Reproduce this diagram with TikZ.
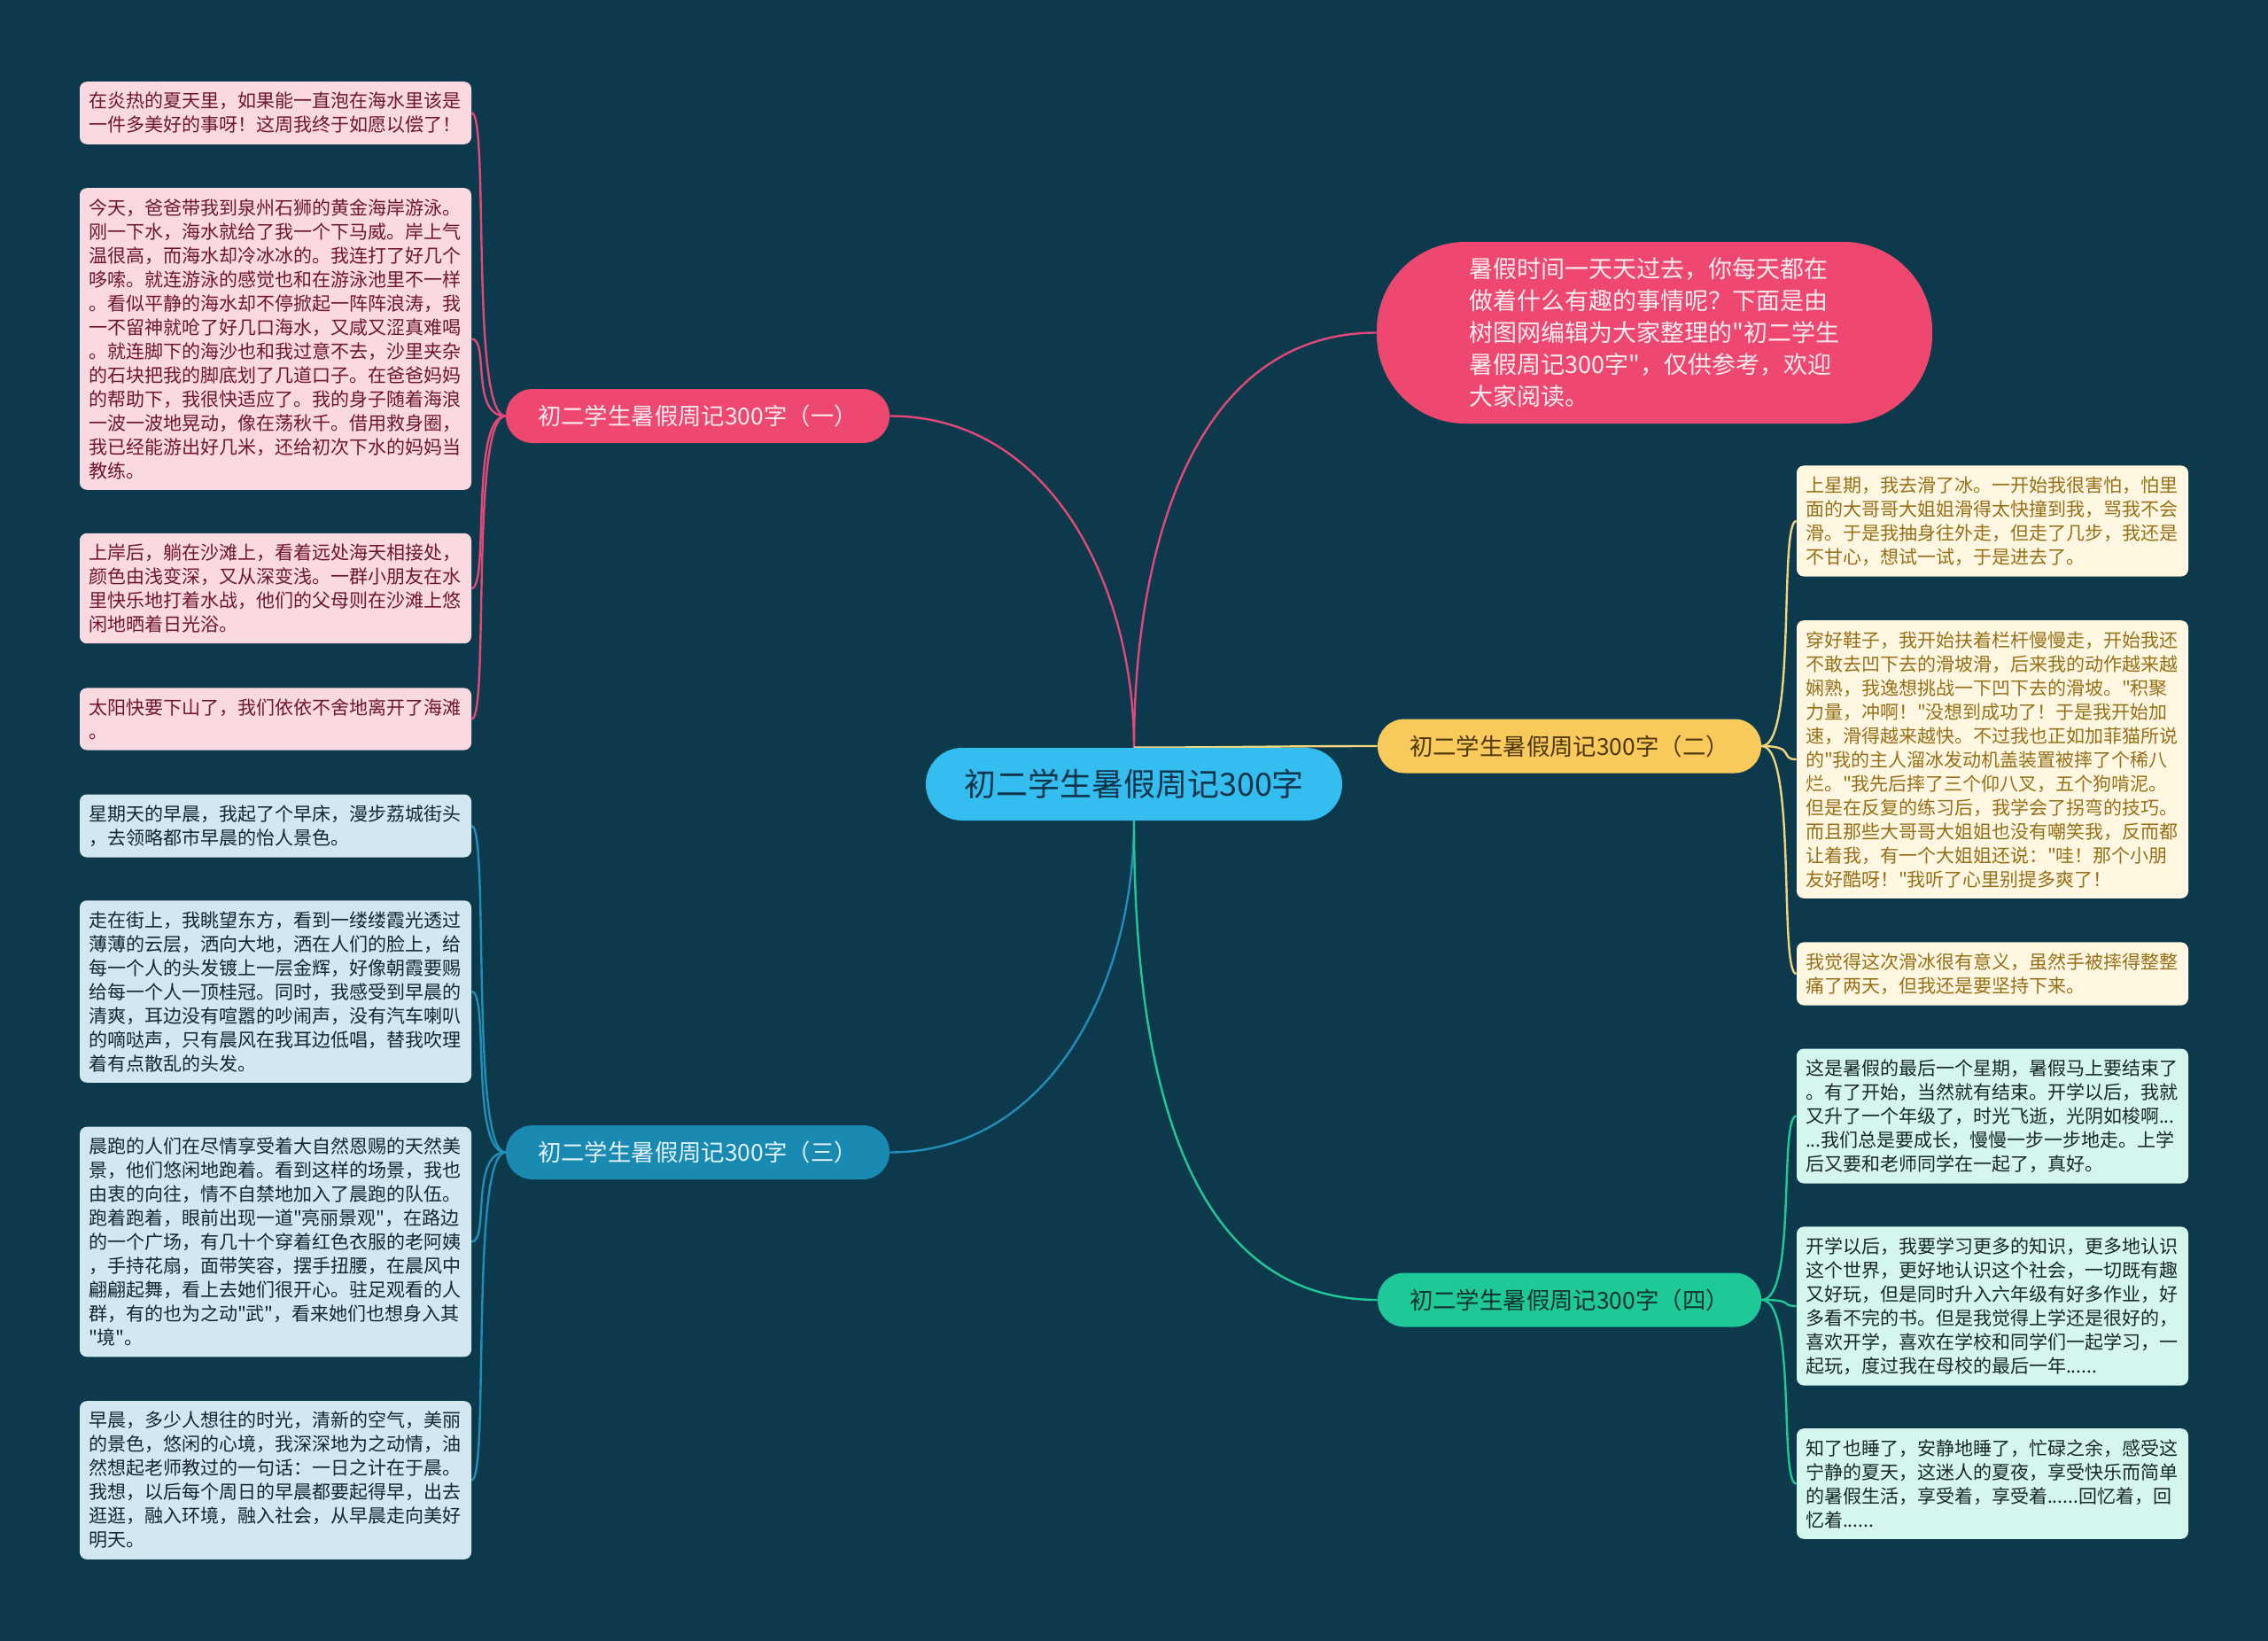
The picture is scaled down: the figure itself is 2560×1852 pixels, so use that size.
\documentclass[tikz,border=0pt]{standalone}
\usepackage{fontspec}
\newfontfamily\cjk{Noto Sans CJK SC}
\usepackage{xcolor}
\usepackage{tikz}
\usetikzlibrary{positioning}
\definecolor{bgteal}{RGB}{12,58,76}
\definecolor{rosefill}{RGB}{239,72,112}
\definecolor{roseleaf}{RGB}{251,217,225}
\definecolor{rosetext}{RGB}{110,22,48}
\definecolor{roseline}{RGB}{226,72,120}
\definecolor{seafill}{RGB}{26,138,178}
\definecolor{sealeaf}{RGB}{210,231,239}
\definecolor{seatext}{RGB}{22,37,48}
\definecolor{sealine}{RGB}{32,142,182}
\definecolor{sunfill}{RGB}{248,202,92}
\definecolor{sunleaf}{RGB}{255,247,225}
\definecolor{suntext}{RGB}{150,112,25}
\definecolor{sunline}{RGB}{240,212,125}
\definecolor{mintfill}{RGB}{30,200,152}
\definecolor{mintleaf}{RGB}{212,246,238}
\definecolor{minttext}{RGB}{25,40,38}
\definecolor{mintline}{RGB}{32,200,152}
\definecolor{skyfill}{RGB}{52,190,240}
\definecolor{skytext}{RGB}{16,52,76}
\pgfdeclarelayer{back}
\pgfdeclarelayer{links}
\pgfsetlayers{back,links,main}

\begin{document}
\begin{tikzpicture}[x=0.5pt, y=-0.5pt, line cap=round, line join=round,
    leaf/.style={rectangle, rounded corners=4pt, text width=211pt, inner xsep=5pt, inner ysep=6pt,
      align=left, font=\cjk\fontsize{10.5pt}{13.5pt}\selectfont},
    branch/.style={rectangle, rounded corners=15pt, minimum width=216.5pt, minimum height=30.5pt,
      inner sep=0pt, font=\cjk\fontsize{13.2pt}{16pt}\selectfont},
    link/.style={line width=1.2pt}]
    \useasboundingbox (0,0) rectangle (2560,1852);
    \begin{pgfonlayer}{back}
      \fill[bgteal] (0,0) rectangle (2560,1852);
    \end{pgfonlayer}

    % central topic and introduction
    \node[rectangle, rounded corners=20.5pt, minimum width=235pt, minimum height=41pt, fill=skyfill,
      text=skytext, font=\cjk\fontsize{18pt}{22pt}\selectfont] (topic) at (1280,885) {初二学生暑假周记300字};
    \node[rectangle, rounded corners=50pt, minimum width=313.5pt, minimum height=102.5pt, fill=rosefill,
      text={rgb,255:red,255;green,236;blue,241}, align=left, font=\cjk\fontsize{13.5pt}{18pt}\selectfont]
      (intro) at (1867.5,375.5) {暑假时间一天天过去，你每天都在\\做着什么有趣的事情呢？下面是由\\树图网编辑为大家整理的"初二学生\\暑假周记300字"，仅供参考，欢迎\\大家阅读。};

    % main branches
    \node[branch, fill=rosefill, text={rgb,255:red,255;green,232;blue,238}] (one) at (787.5,469.5) {初二学生暑假周记300字（一）};
    \node[branch, fill=sunfill, text={rgb,255:red,78;green,56;blue,12}] (two) at (1771.5,842) {初二学生暑假周记300字（二）};
    \node[branch, fill=seafill, text={rgb,255:red,222;green,240;blue,248}] (three) at (787.5,1300.5) {初二学生暑假周记300字（三）};
    \node[branch, fill=mintfill, text={rgb,255:red,14;green,52;blue,46}] (four) at (1771.5,1467) {初二学生暑假周记300字（四）};

    % leaves of (一)
    \node[leaf, fill=roseleaf, text=rosetext] (one1) at (311,127.5) {在炎热的夏天里，如果能一直泡在海水里该是\\一件多美好的事呀！这周我终于如愿以偿了！};
    \node[leaf, fill=roseleaf, text=rosetext] (one2) at (311,382.5) {今天，爸爸带我到泉州石狮的黄金海岸游泳。\\刚一下水，海水就给了我一个下马威。岸上气\\温很高，而海水却冷冰冰的。我连打了好几个\\哆嗦。就连游泳的感觉也和在游泳池里不一样\\。看似平静的海水却不停掀起一阵阵浪涛，我\\一不留神就呛了好几口海水，又咸又涩真难喝\\。就连脚下的海沙也和我过意不去，沙里夹杂\\的石块把我的脚底划了几道口子。在爸爸妈妈\\的帮助下，我很快适应了。我的身子随着海浪\\一波一波地晃动，像在荡秋千。借用救身圈，\\我已经能游出好几米，还给初次下水的妈妈当\\教练。};
    \node[leaf, fill=roseleaf, text=rosetext] (one3) at (311,664) {上岸后，躺在沙滩上，看着远处海天相接处，\\颜色由浅变深，又从深变浅。一群小朋友在水\\里快乐地打着水战，他们的父母则在沙滩上悠\\闲地晒着日光浴。};
    \node[leaf, fill=roseleaf, text=rosetext] (one4) at (311,811.5) {太阳快要下山了，我们依依不舍地离开了海滩\\。};

    % leaves of (三)
    \node[leaf, fill=sealeaf, text=seatext] (three1) at (311,932) {星期天的早晨，我起了个早床，漫步荔城街头\\，去领略都市早晨的怡人景色。};
    \node[leaf, fill=sealeaf, text=seatext] (three2) at (311,1119) {走在街上，我眺望东方，看到一缕缕霞光透过\\薄薄的云层，洒向大地，洒在人们的脸上，给\\每一个人的头发镀上一层金辉，好像朝霞要赐\\给每一个人一顶桂冠。同时，我感受到早晨的\\清爽，耳边没有喧嚣的吵闹声，没有汽车喇叭\\的嘀哒声，只有晨风在我耳边低唱，替我吹理\\着有点散乱的头发。};
    \node[leaf, fill=sealeaf, text=seatext] (three3) at (311,1401.5) {晨跑的人们在尽情享受着大自然恩赐的天然美\\景，他们悠闲地跑着。看到这样的场景，我也\\由衷的向往，情不自禁地加入了晨跑的队伍。\\跑着跑着，眼前出现一道"亮丽景观"，在路边\\的一个广场，有几十个穿着红色衣服的老阿姨\\，手持花扇，面带笑容，摆手扭腰，在晨风中\\翩翩起舞，看上去她们很开心。驻足观看的人\\群，有的也为之动"武"，看来她们也想身入其\\"境"。};
    \node[leaf, fill=sealeaf, text=seatext] (three4) at (311,1670.5) {早晨，多少人想往的时光，清新的空气，美丽\\的景色，悠闲的心境，我深深地为之动情，油\\然想起老师教过的一句话：一日之计在于晨。\\我想，以后每个周日的早晨都要起得早，出去\\逛逛，融入环境，融入社会，从早晨走向美好\\明天。};

    % leaves of (二)
    \node[leaf, fill=sunleaf, text=suntext] (two1) at (2249,588) {上星期，我去滑了冰。一开始我很害怕，怕里\\面的大哥哥大姐姐滑得太快撞到我，骂我不会\\滑。于是我抽身往外走，但走了几步，我还是\\不甘心，想试一试，于是进去了。};
    \node[leaf, fill=sunleaf, text=suntext] (two2) at (2249,857) {穿好鞋子，我开始扶着栏杆慢慢走，开始我还\\不敢去凹下去的滑坡滑，后来我的动作越来越\\娴熟，我逸想挑战一下凹下去的滑坡。"积聚\\力量，冲啊！"没想到成功了！于是我开始加\\速，滑得越来越快。不过我也正如加菲猫所说\\的"我的主人溜冰发动机盖装置被摔了个稀八\\烂。"我先后摔了三个仰八叉，五个狗啃泥。\\但是在反复的练习后，我学会了拐弯的技巧。\\而且那些大哥哥大姐姐也没有嘲笑我，反而都\\让着我，有一个大姐姐还说："哇！那个小朋\\友好酷呀！"我听了心里别提多爽了！};
    \node[leaf, fill=sunleaf, text=suntext] (two3) at (2249,1099) {我觉得这次滑冰很有意义，虽然手被摔得整整\\痛了两天，但我还是要坚持下来。};

    % leaves of (四)
    \node[leaf, fill=mintleaf, text=minttext] (four1) at (2249,1259.5) {这是暑假的最后一个星期，暑假马上要结束了\\。有了开始，当然就有结束。开学以后，我就\\又升了一个年级了，时光飞逝，光阴如梭啊...\\...我们总是要成长，慢慢一步一步地走。上学\\后又要和老师同学在一起了，真好。};
    \node[leaf, fill=mintleaf, text=minttext] (four2) at (2249,1474) {开学以后，我要学习更多的知识，更多地认识\\这个世界，更好地认识这个社会，一切既有趣\\又好玩，但是同时升入六年级有好多作业，好\\多看不完的书。但是我觉得上学还是很好的，\\喜欢开学，喜欢在学校和同学们一起学习，一\\起玩，度过我在母校的最后一年......};
    \node[leaf, fill=mintleaf, text=minttext] (four3) at (2249,1674.5) {知了也睡了，安静地睡了，忙碌之余，感受这\\宁静的夏天，这迷人的夏夜，享受快乐而简单\\的暑假生活，享受着，享受着......回忆着，回\\忆着......};

    % connectors, kept behind the boxes
    \begin{pgfonlayer}{links}
      \draw[link, roseline] (topic.north) to[out=90,in=180] (intro.west);
      \draw[link, roseline] (topic.north) to[out=90,in=0] (one.east);
      \draw[link, sunline] (topic.north) to[out=0,in=180] (two.west);
      \draw[link, sealine] (topic.south) to[out=-90,in=0] (three.east);
      \draw[link, mintline] (topic.south) to[out=-90,in=180] (four.west);
      \foreach \l in {one1,one2,one3,one4}
        \draw[link, roseline] (one.west) .. controls +(-40,0) and +(20,0) .. (\l.east);
      \foreach \l in {three1,three2,three3,three4}
        \draw[link, sealine] (three.west) .. controls +(-40,0) and +(20,0) .. (\l.east);
      \foreach \l in {two1,two2,two3}
        \draw[link, sunline] (two.east) .. controls +(40,0) and +(-20,0) .. (\l.west);
      \foreach \l in {four1,four2,four3}
        \draw[link, mintline] (four.east) .. controls +(40,0) and +(-20,0) .. (\l.west);
    \end{pgfonlayer}
\end{tikzpicture}
\end{document}
